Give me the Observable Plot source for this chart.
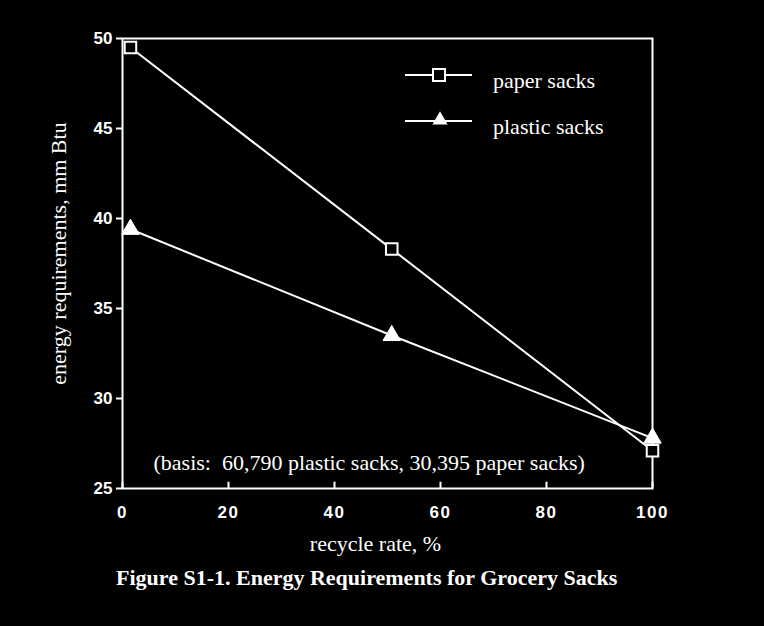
<!DOCTYPE html>
<html>
<head>
<meta charset="utf-8">
<script src="https://cdn.jsdelivr.net/npm/d3@7"></script>
<script src="https://cdn.jsdelivr.net/npm/@observablehq/plot@0.6"></script>
<style>
  html, body { margin: 0; padding: 0; background: #000; }
  #wrap { position: relative; width: 764px; height: 626px; background: #000; color: #fff; overflow: hidden; }
  #caption { position: absolute; left: 116px; top: 565px; font: bold 22px "Liberation Serif", serif; color: #fff; white-space: nowrap; }
  #legend { position: absolute; left: 0; top: 0; }
  .xt text { letter-spacing: 1.5px; }
</style>
</head>
<body>
<div id="wrap"><div id="chart"></div><svg id="legend" width="764" height="200"></svg><div id="caption">Figure S1-1. Energy Requirements for Grocery Sacks</div></div>
<script>
const recycleRate = [1.5, 50.8, 100];
const paperEnergy = [49.5, 38.3, 27.1];
const plasticEnergy = [39.4, 33.5, 27.8];
const xTicks = [0, 20, 40, 60, 80, 100];
const yTicks = [25, 30, 35, 40, 45, 50];
const seriesNames = ["paper sacks", "plastic sacks"];
const note = "(basis:  60,790 plastic sacks, 30,395 paper sacks)";

const paper = recycleRate.map((x, i) => ({x, y: paperEnergy[i]}));
const plastic = recycleRate.map((x, i) => ({x, y: plasticEnergy[i]}));

const serif = "Liberation Serif, serif";

const chart = Plot.plot({
  width: 764,
  height: 560,
  marginTop: 38,
  marginBottom: 72,
  marginLeft: 122,
  marginRight: 112,
  style: {background: "#000", color: "#fff", fontFamily: "Liberation Sans, sans-serif"},
  x: {domain: [0, 100], ticks: xTicks},
  y: {domain: [25, 50], ticks: yTicks},
  marks: [
    Plot.axisX({ticks: xTicks, tickSize: 0, tickPadding: 17, label: null, fontSize: 17, fontWeight: "bold", fill: "#fff", tickFormat: d => d, className: "xt"}),
    Plot.axisY({ticks: yTicks, tickSize: 6, tickPadding: 4, label: null, fontSize: 17, fontWeight: "bold", fill: "#fff", stroke: "#fff", strokeWidth: 2}),
    Plot.ruleX(xTicks, {x: d => d, y1: 25, y2: 25.35, stroke: "#fff", strokeWidth: 2}),
    Plot.frame({stroke: "#fff", strokeWidth: 2}),
    Plot.line(paper, {x: "x", y: "y", stroke: "#fff", strokeWidth: 2}),
    Plot.line(plastic, {x: "x", y: "y", stroke: "#fff", strokeWidth: 2}),
    Plot.dot(paper, {x: "x", y: "y", symbol: "square", r: 6.5, fill: "#000", stroke: "#fff", strokeWidth: 2}),
    Plot.dot(plastic, {x: "x", y: "y", symbol: "triangle", r: 6.5, fill: "#fff", stroke: "#fff", strokeWidth: 1}),
    Plot.text([note], {text: d => d, frameAnchor: "bottom-left", dx: 31, dy: -19, textAnchor: "start", fontSize: 22, fontFamily: serif, fill: "#fff"}),
    Plot.text(["recycle rate, %"], {text: d => d, frameAnchor: "bottom", lineAnchor: "middle", dx: -12, dy: 55, fontSize: 22, fontFamily: serif, fill: "#fff"}),
    Plot.text(["energy requirements, mm Btu"], {text: d => d, frameAnchor: "left", dx: -64, dy: -10, rotate: -90, textAnchor: "middle", fontSize: 22, fontFamily: serif, fill: "#fff"})
  ]
});
document.getElementById("chart").appendChild(chart);

// legend
const lg = d3.select("#legend");
const rows = [{name: seriesNames[0], y: 75, sym: "square"}, {name: seriesNames[1], y: 121, sym: "triangle"}];
rows.forEach(r => {
  lg.append("line").attr("x1", 405).attr("x2", 472).attr("y1", r.y).attr("y2", r.y).attr("stroke", "#fff").attr("stroke-width", 2);
  if (r.sym === "square") {
    lg.append("rect").attr("x", 433).attr("y", r.y - 6).attr("width", 12).attr("height", 12).attr("fill", "#000").attr("stroke", "#fff").attr("stroke-width", 2);
  } else {
    lg.append("path").attr("d", d3.symbol(d3.symbolTriangle, 100)()).attr("transform", `translate(440,${r.y - 1})`).attr("fill", "#fff");
  }
  lg.append("text").attr("x", 493).attr("y", r.y + 13).attr("fill", "#fff").attr("font-family", serif).attr("font-size", 22).text(r.name);
});
</script>
</body>
</html>
